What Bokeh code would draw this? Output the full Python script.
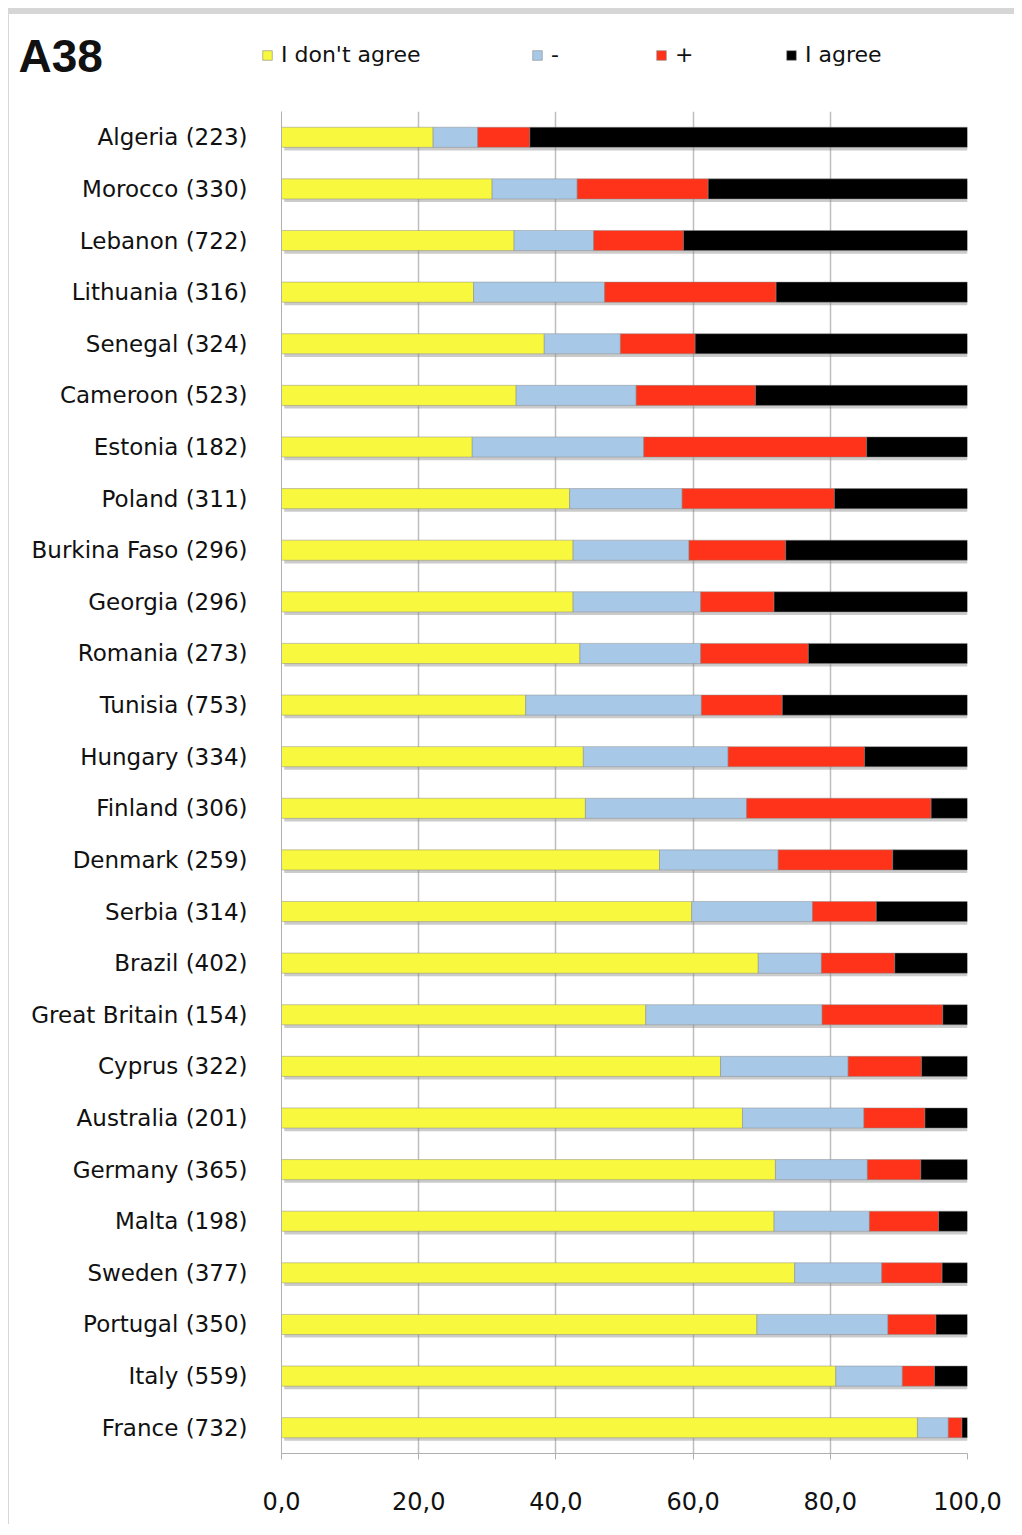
from bokeh.plotting import figure
from bokeh.layouts import column
from bokeh.models import FactorRange, Range1d, Legend, LegendItem, Label, FixedTicker, ColumnDataSource
from bokeh.transform import dodge
from bokeh.embed import file_html
from bokeh.resources import INLINE

# ---- data (top to bottom as in the chart) ----
countries = [
    "Algeria (223)", "Morocco (330)", "Lebanon (722)", "Lithuania (316)", "Senegal (324)",
    "Cameroon (523)", "Estonia (182)", "Poland (311)", "Burkina Faso (296)", "Georgia (296)",
    "Romania (273)", "Tunisia (753)", "Hungary (334)", "Finland (306)", "Denmark (259)",
    "Serbia (314)", "Brazil (402)", "Great Britain (154)", "Cyprus (322)", "Australia (201)",
    "Germany (365)", "Malta (198)", "Sweden (377)", "Portugal (350)", "Italy (559)", "France (732)",
]
dont_agree = [22.1, 30.7, 33.9, 28.0, 38.3, 34.2, 27.8, 42.0, 42.5, 42.5, 43.5, 35.6, 44.0,
              44.3, 55.1, 59.8, 69.5, 53.1, 64.0, 67.2, 72.0, 71.8, 74.8, 69.3, 80.8, 92.7]
minus      = [6.5, 12.4, 11.6, 19.1, 11.1, 17.5, 25.0, 16.4, 16.9, 18.6, 17.6, 25.6, 21.1,
              23.5, 17.3, 17.6, 9.2, 25.7, 18.6, 17.7, 13.4, 13.9, 12.7, 19.1, 9.7, 4.5]
plus       = [7.6, 19.1, 13.1, 25.0, 10.9, 17.4, 32.5, 22.2, 14.1, 10.7, 15.7, 11.8, 19.9,
              26.9, 16.7, 9.3, 10.7, 17.6, 10.7, 8.9, 7.8, 10.1, 8.8, 7.0, 4.7, 2.0]
agree      = [63.8, 37.8, 41.4, 27.9, 39.7, 30.9, 14.7, 19.4, 26.5, 28.2, 23.2, 27.0, 15.0,
              5.3, 10.9, 13.3, 10.6, 3.6, 6.7, 6.2, 6.8, 4.2, 3.7, 4.6, 4.8, 0.8]
series_labels = ["I don't agree", "-", "+", "I agree"]
x_ticks = [0, 20, 40, 60, 80, 100]
x_tick_labels = ["0,0", "20,0", "40,0", "60,0", "80,0", "100,0"]
title_text = "A38"

colors = ["#f8f83e", "#a8c8e8", "#ff3319", "#000000"]
FONT = "DejaVu Sans"
W = 1005

source = ColumnDataSource(dict(
    country=countries, dont=dont_agree, minus=minus, plus=plus, agree=agree,
    total=[a + b + c + d for a, b, c, d in zip(dont_agree, minus, plus, agree)],
))

# ---------------- header (title + legend) ----------------
hdr = figure(width=W, height=97, x_range=Range1d(0, W), y_range=Range1d(0, 97),
             output_backend="svg", toolbar_location=None, min_border=0,
             x_axis_location=None, y_axis_location=None)
hdr.frame_align = False
hdr.outline_line_color = None
hdr.grid.visible = False

hdr.add_layout(Label(x=9, y=56, text=title_text,
                     text_font="Liberation Sans", text_font_style="bold", text_font_size="46px",
                     text_baseline="middle", text_align="left", text_color="#111111"))

legend_x = [252, 522, 646, 776]
for c, lab, lx in zip(colors, series_labels, legend_x):
    # invisible proxy renderer, only used to draw the legend swatch
    r = hdr.hbar(y=[0], right=[1], height=1, fill_color=c, line_color="#8a8a8a",
                 line_alpha=0.6, visible=False)
    lg = Legend(items=[LegendItem(label=lab, renderers=[r])], location=(lx, 44),
                orientation="horizontal", border_line_color=None, background_fill_alpha=0,
                padding=0, margin=0, glyph_width=12, glyph_height=12, label_standoff=8,
                label_text_font=FONT, label_text_font_size="22px", label_text_color="#111111")
    hdr.add_layout(lg, "center")

# ---------------- main chart ----------------
p = figure(
    width=W, height=1413,
    y_range=FactorRange(factors=countries[::-1], range_padding=0),
    x_range=Range1d(0, 100),
    output_backend="svg", toolbar_location=None,
    min_border_left=272, min_border_right=47, min_border_top=0, min_border_bottom=71,
)
p.frame_align = False
p.outline_line_color = None

# bar shadows
p.hbar(y=dodge("country", -0.06, range=p.y_range), left=0.4, right="total", height=0.39,
       source=source, fill_color="#8c8c8c", fill_alpha=0.45, line_color=None)

p.hbar_stack(["dont", "minus", "plus", "agree"], y="country", height=0.39,
             color=colors, source=source,
             line_color="#8a8a8a", line_alpha=0.6, line_width=0.8)

p.xgrid.grid_line_color = "#bdbdbd"
p.xgrid.grid_line_width = 1.5
p.ygrid.grid_line_color = None

p.xaxis.ticker = FixedTicker(ticks=x_ticks)
p.xaxis.major_label_overrides = dict(zip(x_ticks, x_tick_labels))
p.xaxis.axis_line_color = "#b0b0b0"
p.xaxis.major_tick_line_color = "#b0b0b0"
p.xaxis.major_tick_out = 6
p.xaxis.major_tick_in = 0
p.xaxis.minor_tick_line_color = None
p.xaxis.major_label_standoff = 32
p.xaxis.major_label_text_font = FONT
p.xaxis.major_label_text_font_size = "24px"
p.xaxis.major_label_text_color = "#111111"

p.yaxis.axis_line_color = "#b0b0b0"
p.yaxis.major_tick_out = 0
p.yaxis.major_tick_in = 0
p.yaxis.major_label_standoff = 34
p.yaxis.major_label_text_font = FONT
p.yaxis.major_label_text_font_size = "23px"
p.yaxis.major_label_text_color = "#111111"

layout = column(hdr, p, spacing=0)
layout.styles = {"margin-top": "8px", "margin-left": "8px",
                 "border-top": "6px solid #d6d6d6", "border-left": "1px solid #d8d8d8"}

open("out.html", "w").write(file_html(layout, INLINE))
